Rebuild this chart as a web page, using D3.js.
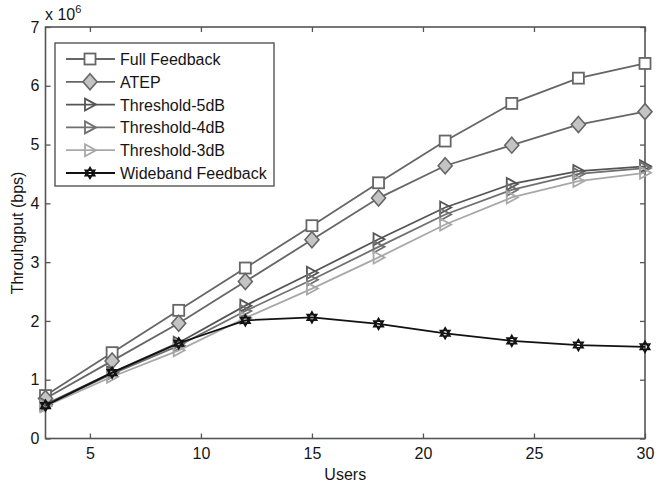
<!DOCTYPE html>
<html>
<head>
<meta charset="utf-8">
<script src="https://cdn.jsdelivr.net/npm/d3@7"></script>
<style>
  body { margin: 0; background: #fff; }
  text { font-family: "Liberation Sans", Arial, sans-serif; fill: #151515; }
</style>
</head>
<body>
<div id="chart"></div>
<script>
const users = [3, 6, 9, 12, 15, 18, 21, 24, 27, 30];
const fullFeedback = [0.73, 1.46, 2.18, 2.90, 3.62, 4.35, 5.06, 5.70, 6.13, 6.38];
const atep = [0.68, 1.32, 1.96, 2.67, 3.38, 4.09, 4.64, 4.99, 5.34, 5.56];
const thr5 = [0.58, 1.12, 1.63, 2.26, 2.82, 3.39, 3.93, 4.33, 4.55, 4.63];
const thr4 = [0.57, 1.10, 1.58, 2.17, 2.70, 3.26, 3.81, 4.23, 4.50, 4.60];
const thr3 = [0.55, 1.05, 1.50, 2.05, 2.55, 3.08, 3.64, 4.10, 4.38, 4.52];
const wideband = [0.56, 1.12, 1.62, 2.01, 2.06, 1.95, 1.79, 1.66, 1.59, 1.56];
const xTicks = [5, 10, 15, 20, 25, 30];
const yTicks = [0, 1, 2, 3, 4, 5, 6, 7];

const series = [
  { name: "Full Feedback", values: fullFeedback, color: "#666", marker: "square", fill: "#fff" },
  { name: "ATEP", values: atep, color: "#666", marker: "diamond", fill: "#c4c4c4" },
  { name: "Threshold-5dB", values: thr5, color: "#555", marker: "tri", fill: "#fff" },
  { name: "Threshold-4dB", values: thr4, color: "#707070", marker: "tri", fill: "#fff" },
  { name: "Threshold-3dB", values: thr3, color: "#a8a8a8", marker: "tri", fill: "#fff" },
  { name: "Wideband Feedback", values: wideband, color: "#111", marker: "hex", fill: "#fff" }
];

const width = 656, height = 486;
const margin = { left: 45.5, right: 11, top: 27, bottom: 47.5 };
const iw = width - margin.left - margin.right;
const ih = height - margin.top - margin.bottom;

const svg = d3.select("#chart").append("svg")
  .attr("width", width).attr("height", height);

const g = svg.append("g").attr("transform", `translate(${margin.left},${margin.top})`);

const x = d3.scaleLinear().domain([3, 30]).range([0, iw]);
const y = d3.scaleLinear().domain([0, 7]).range([ih, 0]);

// box + inside ticks (matlab style)
const axisColor = "#555";
g.append("g").attr("transform", `translate(0,${ih})`)
  .call(d3.axisBottom(x).tickValues(xTicks).tickSize(-5).tickPadding(9.5).tickFormat(d3.format("d")))
  .call(a => a.select(".domain").remove());
g.append("g")
  .call(d3.axisTop(x).tickValues(xTicks).tickSize(-5).tickFormat(""))
  .call(a => a.select(".domain").remove());
g.append("g")
  .call(d3.axisLeft(y).tickValues(yTicks).tickSize(-5).tickPadding(6).tickFormat(d3.format("d")))
  .call(a => a.select(".domain").remove());
g.append("g").attr("transform", `translate(${iw},0)`)
  .call(d3.axisRight(y).tickValues(yTicks).tickSize(-5).tickFormat(""))
  .call(a => a.select(".domain").remove());
g.selectAll(".tick line").attr("stroke", axisColor).attr("stroke-width", 1.3);
g.selectAll(".tick text").style("font-size", "16px").attr("fill", "#151515");

g.append("rect").attr("width", iw).attr("height", ih)
  .attr("fill", "none").attr("stroke", axisColor).attr("stroke-width", 1.6);

// markers
function drawMarker(sel, type, color, fill) {
  if (type === "square") {
    sel.append("rect").attr("x", -5.5).attr("y", -5.5).attr("width", 11).attr("height", 11)
      .attr("fill", fill).attr("stroke", color).attr("stroke-width", 1.8);
  } else if (type === "diamond") {
    sel.append("path").attr("d", "M0,-8L7,0L0,8L-7,0Z")
      .attr("fill", fill).attr("stroke", color).attr("stroke-width", 1.6);
  } else if (type === "tri") {
    sel.append("path").attr("d", "M-5,-6L6,0L-5,6Z")
      .attr("fill", "none").attr("stroke", color).attr("stroke-width", 1.8);
  } else if (type === "hex") {
    const r = 5.5;
    const up = d3.range(3).map(i => { const a = -Math.PI / 2 + i * 2 * Math.PI / 3; return [r * Math.cos(a), r * Math.sin(a)]; });
    const dn = d3.range(3).map(i => { const a = Math.PI / 2 + i * 2 * Math.PI / 3; return [r * Math.cos(a), r * Math.sin(a)]; });
    const tri = pts => "M" + pts.map(p => p.join(",")).join("L") + "Z";
    sel.append("path").attr("d", tri(up) + tri(dn))
      .attr("fill", "none").attr("stroke", color).attr("stroke-width", 1.6);
  }
}

const line = d3.line().x((d, i) => x(users[i])).y(d => y(d));

series.forEach(s => {
  g.append("path").datum(s.values)
    .attr("d", line).attr("fill", "none")
    .attr("stroke", s.color).attr("stroke-width", 1.8);
  s.values.forEach((v, i) => {
    const m = g.append("g").attr("transform", `translate(${x(users[i])},${y(v)})`);
    drawMarker(m, s.marker, s.color, s.fill);
  });
});

// legend
const lg = svg.append("g").attr("transform", "translate(55,43)");
lg.append("rect").attr("width", 219).attr("height", 143)
  .attr("fill", "#fff").attr("stroke", axisColor).attr("stroke-width", 1.4);
series.forEach((s, i) => {
  const yy = 16 + i * 22.8;
  lg.append("line").attr("x1", 11).attr("x2", 60).attr("y1", yy).attr("y2", yy)
    .attr("stroke", s.color).attr("stroke-width", 1.8);
  drawMarker(lg.append("g").attr("transform", `translate(35,${yy})`), s.marker, s.color, s.fill);
  lg.append("text").attr("x", 65).attr("y", yy + 6)
    .style("font-size", "16px").text(s.name);
});

// labels
svg.append("text").attr("x", margin.left + iw / 2).attr("y", 480)
  .attr("text-anchor", "middle").style("font-size", "16px").text("Users");
svg.append("text").attr("transform", `translate(23,233) rotate(-90)`)
  .attr("text-anchor", "middle").style("font-size", "16px").text("Throuhgput (bps)");
const sc = svg.append("text").attr("x", 45).attr("y", 20).style("font-size", "16px");
sc.append("tspan").text("x 10");
sc.append("tspan").attr("dy", -7).style("font-size", "11px").text("6");
</script>
</body>
</html>
